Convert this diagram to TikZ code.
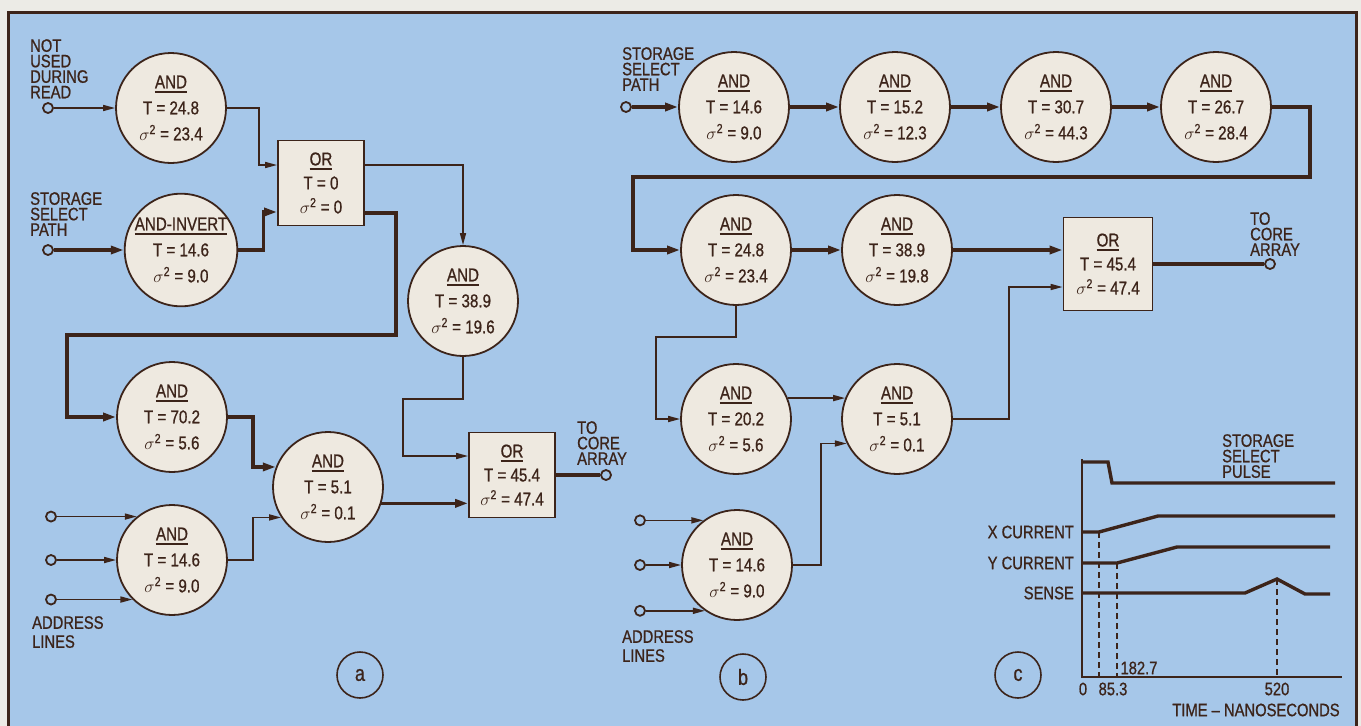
\documentclass[tikz,border=0pt]{standalone}
\usepackage{fontspec}
\setmainfont{Liberation Sans}[FakeStretch=0.82, FakeBold=0.8]
\usepackage{xcolor}
\usepackage{tikz}
\usetikzlibrary{arrows.meta}

\definecolor{bgblue}{RGB}{166,199,233}
\definecolor{ink}{RGB}{60,36,26}
\definecolor{gatefill}{RGB}{238,233,224}
\definecolor{paper}{RGB}{236,235,230}

\newcommand{\gatetitle}[1]{\leavevmode\vtop{\hbox{#1}\kern2.5pt\hrule height 1.8pt}}
\newcommand{\sigsq}{\(\sigma\)\textsuperscript{2}}

\begin{document}
\begin{tikzpicture}[x=1pt, y=-1pt,
    gate/.style={circle, draw=ink, line width=1.8pt, fill=gatefill, minimum size=110pt, inner sep=0pt, align=center, text=ink, font=\fontsize{18.5}{26}\selectfont},
    orbox/.style={rectangle, draw=ink, line width=1.8pt, fill=gatefill, minimum width=86pt, minimum height=85pt, inner sep=0pt, align=center, text=ink, font=\fontsize{18.5}{24}\selectfont},
    port/.style={circle, draw=ink, line width=1.8pt, fill=bgblue, minimum size=10pt, inner sep=0pt},
    lbl/.style={align=left, inner sep=0pt, text=ink, font=\fontsize{18}{15.5}\selectfont},
    addrlbl/.style={lbl, font=\fontsize{18}{19}\selectfont},
    tag/.style={circle, draw=ink, line width=1.6pt, minimum size=46pt, inner sep=0pt, text=ink, font=\fontsize{22}{22}\selectfont},
    wire/.style={draw=ink, line width=1.6pt, >={Triangle[length=12pt,width=6pt]}},
    bus/.style={draw=ink, line width=3.4pt, >={Triangle[length=13pt,width=8pt]}},
    trace/.style={draw=ink, line width=3.4pt},
    guide/.style={draw=ink, line width=1.2pt, dash pattern=on 6pt off 4pt}]

    \useasboundingbox (0,0) rectangle (1361,726);
    \clip (0,0) rectangle (1361,726);

    % Background and frame
    \fill[paper] (0,0) rectangle (1361,726);
    \fill[bgblue] (8,12) rectangle (1356,760);
    \draw[ink, line width=3pt] (8,12) rectangle (1356,760);

    % Panel a
    \node[lbl, anchor=north west] (aNotLbl) at (30,39) {NOT\\USED\\DURING\\READ};
    \node[port] (aIn1) at (48,108) {};
    \node[gate] (aA) at (171,108) {\gatetitle{AND}\\T = 24.8\\\sigsq{} = 23.4};
    \node[orbox] (aOr1) at (321,183) {\gatetitle{OR}\\T = 0\\\sigsq{} = 0};
    \node[lbl, anchor=north west] (aSelLbl) at (30,192) {STORAGE\\SELECT\\PATH};
    \node[port] (aIn2) at (48,250) {};
    \node[gate] (aInv) at (181,250) {\gatetitle{AND-INVERT}\\T = 14.6\\\sigsq{} = 9.0};
    \node[gate] (aB) at (463,301) {\gatetitle{AND}\\T = 38.9\\\sigsq{} = 19.6};
    \node[gate] (aC) at (172,417) {\gatetitle{AND}\\T = 70.2\\\sigsq{} = 5.6};
    \node[gate] (aD) at (172,560) {\gatetitle{AND}\\T = 14.6\\\sigsq{} = 9.0};
    \node[gate] (aE) at (328,487) {\gatetitle{AND}\\T = 5.1\\\sigsq{} = 0.1};
    \node[orbox] (aOr2) at (512,475) {\gatetitle{OR}\\T = 45.4\\\sigsq{} = 47.4};
    \node[port] (aOut) at (606,475) {};
    \node[lbl, anchor=north west] (aCoreLbl) at (577,421) {TO\\CORE\\ARRAY};
    \node[port] (aAd1) at (51,0 |- aD.129) {};
    \node[port] (aAd2) at (51,560) {};
    \node[port] (aAd3) at (51,0 |- aD.225) {};
    \node[addrlbl, anchor=north west] (aAddrLbl) at (32,616) {ADDRESS\\LINES};
    \node[tag] (aTag) at (360,675) {a};

    \draw[wire,->] (aIn1) -- (aA);
    \draw[wire,->] (aA.east) -- ++(32,0) |- ([yshift=18pt]aOr1.west);
    \draw[bus,->] (aIn2) -- (aInv);
    \draw[bus,->] (aInv.east) -- ++(25,0) |- ([yshift=-29pt]aOr1.west);
    \draw[wire,->] ([yshift=18pt]aOr1.east) -| (aB.north);
    \draw[bus,->] ([yshift=-30pt]aOr1.east) -- ++(31,0) -- ++(0,122) -- ++(-329,0) |- (aC.west);
    \draw[bus,->] (aC.east) -- ++(25,0) |- (aE.159);
    \draw[wire,->] (aD.east) -- ++(25,0) |- (aE.213);
    \draw[wire,->] (aAd1) -- (aD.129);
    \draw[wire,->] (aAd2) -- (aD);
    \draw[wire,->] (aAd3) -- (aD.225);
    \draw[bus,->] (aE.343) -- (aE.343 -| aOr2.west);
    \draw[wire,->] (aB.south) -- ++(0,42) -- ++(-60,0) |- ([yshift=19pt]aOr2.west);
    \draw[bus] (aOr2) -- (aOut);

    % Panel b
    \node[lbl, anchor=north west] (bSelLbl) at (622,47) {STORAGE\\SELECT\\PATH};
    \node[port] (bIn) at (626,107) {};
    \node[gate] (b1) at (734,107) {\gatetitle{AND}\\T = 14.6\\\sigsq{} = 9.0};
    \node[gate] (b2) at (895,107) {\gatetitle{AND}\\T = 15.2\\\sigsq{} = 12.3};
    \node[gate] (b3) at (1056,107) {\gatetitle{AND}\\T = 30.7\\\sigsq{} = 44.3};
    \node[gate] (b4) at (1216,107) {\gatetitle{AND}\\T = 26.7\\\sigsq{} = 28.4};
    \node[gate] (b5) at (736,250) {\gatetitle{AND}\\T = 24.8\\\sigsq{} = 23.4};
    \node[gate] (b6) at (897,250) {\gatetitle{AND}\\T = 38.9\\\sigsq{} = 19.8};
    \node[orbox, minimum width=89pt, minimum height=93pt] (bOr) at (1108,264) {\gatetitle{OR}\\T = 45.4\\\sigsq{} = 47.4};
    \node[port] (bOut) at (1270,264) {};
    \node[lbl, anchor=north west] (bCoreLbl) at (1250,212) {TO\\CORE\\ARRAY};
    \node[gate] (b7) at (736,419) {\gatetitle{AND}\\T = 20.2\\\sigsq{} = 5.6};
    \node[gate] (b8) at (897,419) {\gatetitle{AND}\\T = 5.1\\\sigsq{} = 0.1};
    \node[gate] (b9) at (737,565) {\gatetitle{AND}\\T = 14.6\\\sigsq{} = 9.0};
    \node[port] (bAd1) at (640,0 |- b9.127) {};
    \node[port] (bAd2) at (640,565) {};
    \node[port] (bAd3) at (640,0 |- b9.235) {};
    \node[addrlbl, anchor=north west] (bAddrLbl) at (622,630) {ADDRESS\\LINES};
    \node[tag] (bTag) at (743,677) {b};

    \draw[bus,->] (bIn) -- (b1);
    \draw[bus,->] (b1) -- (b2);
    \draw[bus,->] (b2) -- (b3);
    \draw[bus,->] (b3) -- (b4);
    \draw[bus,->] (b4.east) -- ++(38,0) -- ++(0,70) -- ++(-677,0) |- (b5.west);
    \draw[bus,->] (b5) -- (b6);
    \draw[bus,->] (b6.east) -- (b6.east -| bOr.west);
    \draw[bus] (bOr) -- (bOut);
    \draw[wire,->] (b5.south) -- ++(0,31) -- ++(-80,0) |- (b7.west);
    \draw[wire,->] (b7.22) -- (b8.158);
    \draw[wire,->] (b8.east) -- ++(56,0) |- ([yshift=-23pt]bOr.west);
    \draw[wire,->] (b9.east) -- ++(28,0) |- (b8.206);
    \draw[wire,->] (bAd1) -- (b9.127);
    \draw[wire,->] (bAd2) -- (b9);
    \draw[wire,->] (bAd3) -- (b9.235);

    % Panel c
    \node[tag] (cTag) at (1018,675) {c};
    \draw[ink, line width=2.6pt] (1082,459) -- (1082,677) -- (1342,677);
    \draw[trace] (1082,462) -- (1108,462) -- (1112,483) -- (1335,483);
    \draw[trace] (1082,532) -- (1099,532) -- (1158,516) -- (1335,516);
    \draw[trace] (1082,563) -- (1117,563) -- (1177,547) -- (1330,547);
    \draw[trace] (1082,593) -- (1245,593) -- (1277,579) -- (1305,594) -- (1330,594);
    \draw[guide] (1099,532) -- (1099,677);
    \draw[guide] (1117,563) -- (1117,677);
    \draw[guide] (1277,579) -- (1277,677);
    \node[lbl, anchor=north west] (cPulseLbl) at (1222,434) {STORAGE\\SELECT\\PULSE};
    \node[lbl, anchor=east] (cXLbl) at (1074,532) {X CURRENT};
    \node[lbl, anchor=east] (cYLbl) at (1074,563) {Y CURRENT};
    \node[lbl, anchor=east] (cSenseLbl) at (1074,593) {SENSE};
    \node[lbl] (cT0) at (1083,689) {0};
    \node[lbl] (cT1) at (1113,689) {85.3};
    \node[lbl] (cT2) at (1139,668) {182.7};
    \node[lbl] (cT3) at (1277,689) {520};
    \node[lbl] (cAxisLbl) at (1256,710) {TIME -- NANOSECONDS};
\end{tikzpicture}
\end{document}
